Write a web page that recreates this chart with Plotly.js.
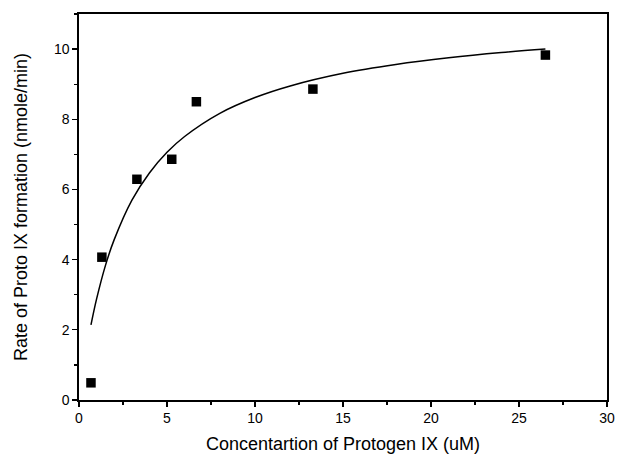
<!DOCTYPE html>
<html>
<head>
<meta charset="utf-8">
<script src="https://cdn.plot.ly/plotly-3.0.1.min.js"></script>
<style>html,body{margin:0;padding:0;background:#fff;}#chart{width:619px;height:456px;}</style>
</head>
<body>
<div id="chart"></div>
<script>
// Measured data points
const concentration = [0.68, 1.3, 3.29, 5.27, 6.67, 13.29, 26.5];
const rate = [0.49, 4.07, 6.29, 6.86, 8.5, 8.86, 9.83];
// Fitted curve
const curveX = [0.68, 1.0, 1.5, 2.0, 3.0, 4.0, 5.0, 6.0, 8.0, 10.0, 12.0, 15.0, 18.0, 21.0, 24.0, 26.5];
const curveY = [2.14, 2.88, 3.83, 4.57, 5.69, 6.47, 7.06, 7.51, 8.17, 8.62, 8.95, 9.31, 9.56, 9.75, 9.90, 10.0];
const xTicks = [0, 5, 10, 15, 20, 25, 30];
const yTicks = [0, 2, 4, 6, 8, 10];

const font = {family: 'Liberation Sans, Arial, sans-serif', color: '#000'};

Plotly.newPlot('chart', [
  {x: curveX, y: curveY, mode: 'lines', line: {color: '#000', width: 1.5, shape: 'spline'}, hoverinfo: 'none'},
  {x: concentration, y: rate, mode: 'markers', marker: {symbol: 'square', size: 9.5, color: '#000'}}
], {
  width: 619, height: 456,
  margin: {l: 79, r: 12, t: 14, b: 56},
  showlegend: false,
  paper_bgcolor: '#fff', plot_bgcolor: '#fff',
  font: font,
  xaxis: {
    range: [0, 30], tickvals: xTicks, ticktext: xTicks.map(String),
    ticks: 'outside', ticklen: 5, tickwidth: 1.3, tickcolor: '#000',
    minor: {dtick: 2.5, ticks: 'outside', ticklen: 3, tickcolor: '#000', tickwidth: 1.2},
    showline: true, linecolor: '#000', linewidth: 1.6, mirror: true,
    showgrid: false, zeroline: false,
    tickfont: {size: 14, family: font.family, color: '#000'},
    title: {text: 'Concentartion of Protogen IX (uM)', font: {size: 18, family: font.family, color: '#000'}, standoff: 12}
  },
  yaxis: {
    range: [0, 11], tickvals: yTicks, ticktext: yTicks.map(String),
    ticks: 'outside', ticklen: 5, tickwidth: 1.3, tickcolor: '#000',
    minor: {dtick: 1, ticks: 'outside', ticklen: 3, tickcolor: '#000', tickwidth: 1.2},
    showline: true, linecolor: '#000', linewidth: 1.6, mirror: true,
    showgrid: false, zeroline: false,
    tickfont: {size: 14, family: font.family, color: '#000'},
    title: {text: 'Rate of Proto IX formation (nmole/min)', font: {size: 18, family: font.family, color: '#000'}, standoff: 22}
  }
}, {displayModeBar: false, staticPlot: true});
</script>
</body>
</html>
